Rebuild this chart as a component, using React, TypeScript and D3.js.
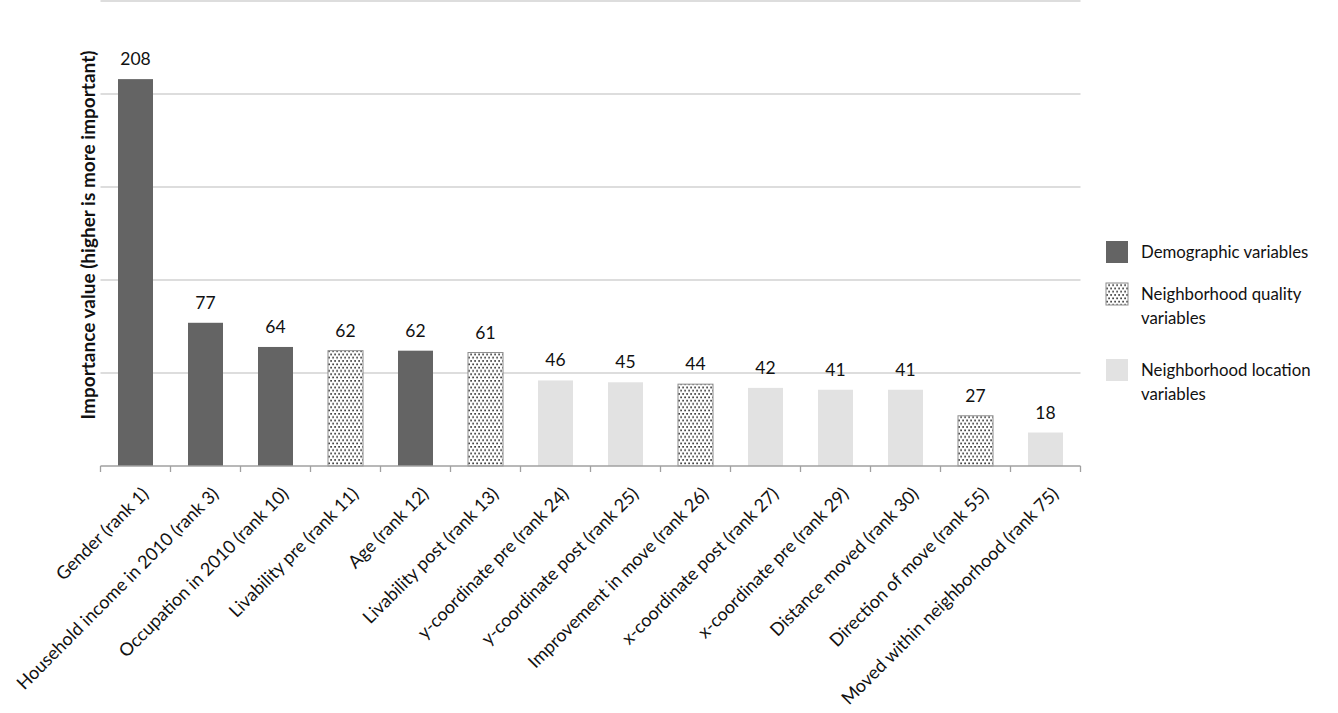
import * as d3 from 'd3';

const categories = [
    'Gender (rank 1)',
    'Household income in 2010 (rank 3)',
    'Occupation in 2010 (rank 10)',
    'Livability pre (rank 11)',
    'Age (rank 12)',
    'Livability post (rank 13)',
    'y-coordinate pre (rank 24)',
    'y-coordinate post (rank 25)',
    'Improvement in move (rank 26)',
    'x-coordinate post (rank 27)',
    'x-coordinate pre (rank 29)',
    'Distance moved (rank 30)',
    'Direction of move (rank 55)',
    'Moved within neighborhood (rank 75)',
];
const values = [208, 77, 64, 62, 62, 61, 46, 45, 44, 42, 41, 41, 27, 18];
const groups = ['demo', 'demo', 'demo', 'qual', 'demo', 'qual', 'loc', 'loc', 'qual', 'loc', 'loc', 'loc', 'qual', 'loc'];
const yTicks = [0, 50, 100, 150, 200, 250];
const legendItems = [
    { key: 'demo', lines: ['Demographic variables'] },
    { key: 'qual', lines: ['Neighborhood quality', 'variables'] },
    { key: 'loc', lines: ['Neighborhood location', 'variables'] },
];

const FONT = 'Lato, "Open Sans", sans-serif';
const width = 1338;
const height = 713;
const margin = { left: 100.5, right: 257.5, top: 1, bottom: 247 };

function fillFor(g: string) {
    if (g === 'demo') return '#646464';
    if (g === 'qual') return 'url(#dots)';
    return '#e2e2e2';
}

export default function App() {
    const x = d3
        .scaleBand<string>()
        .domain(categories)
        .range([margin.left, width - margin.right])
        .paddingInner(0.5)
        .paddingOuter(0.25);
    const y = d3
        .scaleLinear()
        .domain([0, 250])
        .range([height - margin.bottom, margin.top]);
    const base = y(0);
    const step = x.step();

    return (
        <svg
            width={width}
            height={height}
            style={{ position: 'absolute', left: 0, top: 0, background: '#fff' }}
            fontFamily={FONT}
        >
            <defs>
                <pattern id="dots" width={4} height={6.6} patternUnits="userSpaceOnUse">
                    <rect width={4} height={6.6} fill="#fff" />
                    <rect x={0.3} y={0.5} width={1.6} height={1.6} fill="#222" />
                    <rect x={2.3} y={3.8} width={1.6} height={1.6} fill="#222" />
                </pattern>
            </defs>

            {/* gridlines */}
            {yTicks.slice(1).map((t) => (
                <line
                    key={t}
                    x1={margin.left}
                    x2={width - margin.right}
                    y1={y(t)}
                    y2={y(t)}
                    stroke="#d2d2d2"
                    strokeWidth={1.3}
                />
            ))}

            {/* bars */}
            {categories.map((c, i) => (
                <g key={c}>
                    <rect
                        x={x(c)!}
                        y={y(values[i])}
                        width={x.bandwidth()}
                        height={base - y(values[i])}
                        fill={fillFor(groups[i])}
                        stroke={groups[i] === 'qual' ? '#8c8c8c' : 'none'}
                        strokeWidth={1}
                    />
                    <text
                        x={x(c)! + x.bandwidth() / 2}
                        y={y(values[i]) - 14}
                        textAnchor="middle"
                        fontSize={17.5}
                        fill="#111"
                    >
                        {values[i]}
                    </text>
                </g>
            ))}

            {/* x axis */}
            <line x1={margin.left} x2={width - margin.right} y1={base} y2={base} stroke="#a0a0a0" strokeWidth={1.3} />
            {d3.range(categories.length + 1).map((k) => (
                <line
                    key={k}
                    x1={margin.left + k * step}
                    x2={margin.left + k * step}
                    y1={base}
                    y2={base + 6}
                    stroke="#a0a0a0"
                    strokeWidth={1.3}
                />
            ))}
            {categories.map((c) => {
                const cx = x(c)! + x.bandwidth() / 2;
                return (
                    <text
                        key={c}
                        transform={`translate(${cx + 5},${486}) rotate(-45)`}
                        textAnchor="end"
                        dy="0.72em"
                        fontSize={18}
                        fill="#111"
                    >
                        {c}
                    </text>
                );
            })}

            {/* y axis title */}
            <text
                transform={`translate(95,${235}) rotate(-90)`}
                textAnchor="middle"
                fontSize={19}
                fontWeight="bold"
                fill="#111"
            >
                Importance value (higher is more important)
            </text>

            {/* legend */}
            {legendItems.map((item, i) => {
                const top = [241, 283, 359][i];
                return (
                    <g key={item.key}>
                        <rect
                            x={1106}
                            y={top}
                            width={22}
                            height={22}
                            fill={fillFor(item.key)}
                            stroke={item.key === 'qual' ? '#8c8c8c' : 'none'}
                        />
                        {item.lines.map((ln, j) => (
                            <text key={j} x={1141} y={top + 17 + j * 24} fontSize={16.8} fill="#111">
                                {ln}
                            </text>
                        ))}
                    </g>
                );
            })}
        </svg>
    );
}
